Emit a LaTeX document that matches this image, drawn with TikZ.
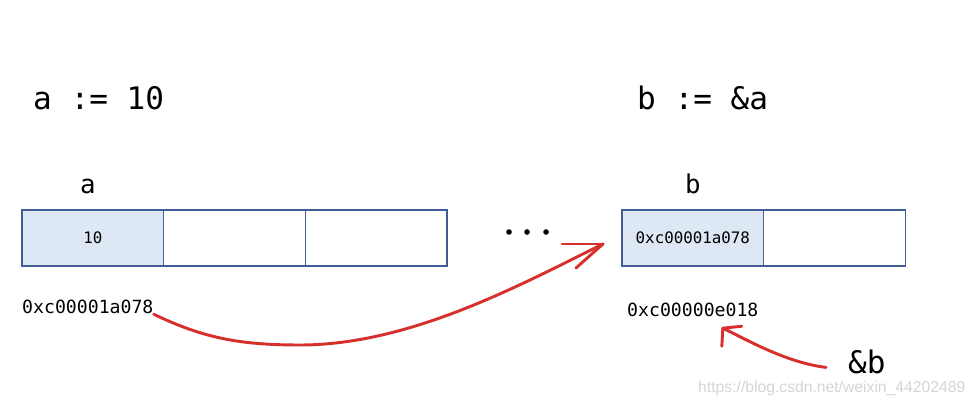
\documentclass[tikz,border=0pt]{standalone}
\usepackage{fontspec}
\setmonofont{DejaVu Sans Mono}
\setsansfont{Liberation Sans}
\usetikzlibrary{positioning}
\definecolor{cellblue}{RGB}{222,232,244}
\definecolor{cellline}{RGB}{66,92,150}
\definecolor{penred}{RGB}{214,48,45}

\begin{document}
\begin{tikzpicture}[
    x=0.03cm, y=-0.03cm,
    every node/.style={inner sep=0pt, font=\ttfamily},
    cell/.style={draw=cellline, line width=1pt, outer sep=0pt, minimum width=4.25cm, minimum height=1.68cm, font=\ttfamily\fontsize{13.5}{16}\selectfont},
    filled/.style={cell, fill=cellblue},
    title/.style={font=\ttfamily\fontsize{26.5}{32}\selectfont},
    varname/.style={font=\ttfamily\fontsize{22}{26}\selectfont},
    addr/.style={font=\ttfamily\fontsize{15.5}{18}\selectfont},
    redarrow/.style={draw=penred, line width=2.5pt, line cap=round, line join=round}
]
\useasboundingbox (0,0) rectangle (978,401);

% code lines
\node[title, anchor=base west] (codeA) at (33,110) {a := 10};
\node[title, anchor=base west] (codeB) at (637,110) {b := \&a};

% memory of a
\node[filled, anchor=north west] (a1) at (22,210) {10};
\node[cell, right=0cm of a1] (a2) {};
\node[cell, right=0cm of a2] (a3) {};
\node[varname, above=0.48cm of a1, xshift=-0.15cm] (nameA) {a};
\node[addr, below=1.02cm of a1.south west, anchor=north west] (addrA) {0xc00001a078};

\foreach \x in {509,527,546}
    \fill (\x,232) circle (2.4pt);

% memory of b
\node[filled, anchor=north west] (b1) at (622,210) {0xc00001a078};
\node[cell, right=0cm of b1] (b2) {};
\node[varname, above=0.48cm of b1] (nameB) {b};
\node[addr, below=1.11cm of b1.south west, anchor=north west, xshift=0.15cm] (addrB) {0xc00000e018};
\node[title, anchor=base west] (refB) at (848,373) {\&b};

\node[font=\sffamily\fontsize{13.4}{16}\selectfont, text=black!17, anchor=base west] (mark) at (698,392) {https://blog.csdn.net/weixin\_44202489};

\coordinate (tipA) at ([shift={(-19,6)}]b1.west);
\coordinate (dipA) at (300,345);
\coordinate (tipB) at ([shift={(30,11)}]addrB.south);
\coordinate (startB) at ([shift={(-22,6)}]refB.west);

\draw[redarrow] (addrA.south east) .. controls +(50,24) and +(-60,0) .. (dipA)
    .. controls +(110,0) and +(-83,41) .. (tipA);
\draw[redarrow] (tipA) -- ++(-41,0);
\draw[redarrow] (tipA) -- ++(-27,24);

\draw[redarrow] (startB) .. controls +(-40,-5) and +(25,12) .. (tipB);
\draw[redarrow] (tipB) -- ++(-1,18);
\draw[redarrow] (tipB) -- ++(19,-2);
\end{tikzpicture}
\end{document}
